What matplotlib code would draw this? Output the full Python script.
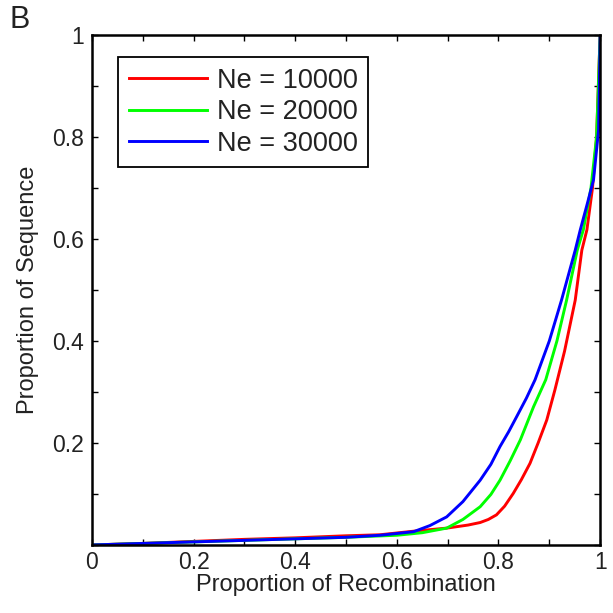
import numpy as np
import matplotlib
matplotlib.use("Agg")
import matplotlib.pyplot as plt
from matplotlib.ticker import MultipleLocator

plt.rcParams['font.family'] = ['Liberation Sans', 'DejaVu Sans']

# values
recomb_10k = [0, 0.1, 0.2, 0.3, 0.4, 0.5, 0.567, 0.633, 0.698, 0.74, 0.764, 0.78, 0.796,
              0.812, 0.829, 0.845, 0.862, 0.878, 0.895, 0.911, 0.93, 0.951, 0.964,
              0.974, 0.985, 0.993, 1.0]
seq_10k = [0, 0.003, 0.007, 0.011, 0.014, 0.018, 0.020, 0.027, 0.033, 0.039, 0.044, 0.050, 0.059,
           0.076, 0.101, 0.128, 0.160, 0.200, 0.245, 0.304, 0.38, 0.48, 0.578,
           0.618, 0.70, 0.80, 1.0]

recomb_20k = [0, 0.1, 0.2, 0.3, 0.4, 0.5, 0.6, 0.65, 0.698, 0.73, 0.764, 0.785, 0.803, 0.823,
              0.843, 0.869, 0.893, 0.915, 0.934, 0.955, 0.967, 0.982, 0.993, 1.0]
seq_20k = [0, 0.003, 0.006, 0.009, 0.012, 0.015, 0.019, 0.024, 0.033, 0.050, 0.075, 0.099,
           0.127, 0.165, 0.206, 0.271, 0.324, 0.40, 0.48, 0.578, 0.618, 0.70, 0.80, 1.0]

recomb_30k = [0, 0.1, 0.2, 0.3, 0.4, 0.5, 0.567, 0.633, 0.665, 0.698, 0.73, 0.764, 0.785,
              0.803, 0.82, 0.836, 0.855, 0.872, 0.9, 0.924, 0.951, 0.961, 0.975, 0.987,
              0.997, 1.0]
seq_30k = [0, 0.003, 0.006, 0.009, 0.012, 0.015, 0.019, 0.026, 0.038, 0.055, 0.085, 0.127, 0.158,
           0.193, 0.222, 0.252, 0.288, 0.324, 0.40, 0.48, 0.578, 0.618, 0.67, 0.716,
           0.814, 1.0]

labels = ['Ne = 10000', 'Ne = 20000', 'Ne = 30000']
colors = ['#ff0000', '#00ff00', '#0000ff']

fig = plt.figure(figsize=(6.13, 6.13), dpi=100)
ax = fig.add_axes([0.150, 0.111, 0.829, 0.832])

series = [(recomb_10k, seq_10k), (recomb_20k, seq_20k), (recomb_30k, seq_30k)]
for (x, y), lab, c in zip(series, labels, colors):
    ax.plot(x, y, color=c, lw=2.1, label=lab, solid_joinstyle='round')

ax.set_xlim(0, 1)
ax.set_ylim(0, 1)

ax.xaxis.set_minor_locator(MultipleLocator(0.1))
ax.yaxis.set_minor_locator(MultipleLocator(0.1))
ax.set_xticks(np.arange(0, 1.01, 0.2))
ax.set_xticklabels(['0', '0.2', '0.4', '0.6', '0.8', '1'])
ax.set_yticks(np.arange(0, 1.01, 0.2))
ax.set_yticklabels(['', '0.2', '0.4', '0.6', '0.8', '1'])

ax.tick_params(which='both', direction='in', top=True, right=True, length=4,
               width=1.0, labelsize=16.5, pad=6, color='black', labelcolor='#222222')
ax.tick_params(axis='x', pad=4)
for s in ax.spines.values():
    s.set_linewidth(1.8)

ax.set_xlabel('Proportion of Recombination', fontsize=17, color='#222222', labelpad=0)
ax.set_ylabel('Proportion of Sequence', fontsize=17, color='#222222', labelpad=9)

leg = ax.legend(loc='upper left', bbox_to_anchor=(0.051, 0.957), fontsize=19.5,
                frameon=True, fancybox=False, framealpha=1, edgecolor='black',
                handlelength=2.9, handletextpad=0.35, borderpad=0.4,
                labelspacing=0.2, borderaxespad=0)
leg.get_frame().set_linewidth(1.3)
for t in leg.get_texts():
    t.set_color('#222222')

fig.text(0.016, 0.955, 'B', fontsize=22, color='#222222')

fig.savefig('out.png', dpi=100)
